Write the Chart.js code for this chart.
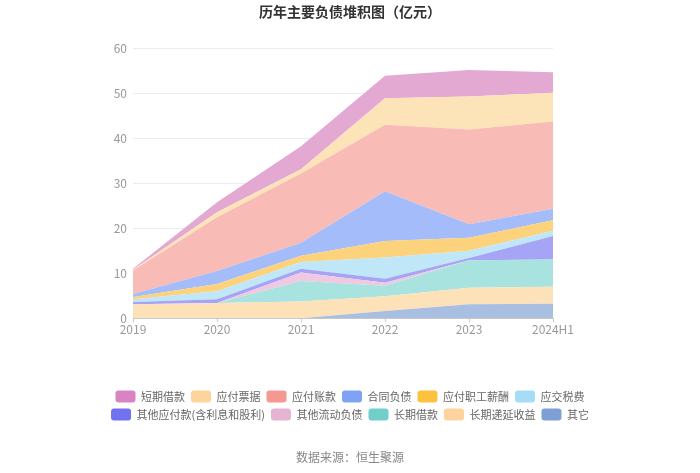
<!DOCTYPE html>
<html>
<head>
<meta charset="utf-8">
<script src="https://cdn.jsdelivr.net/npm/chart.js@4.4.1/dist/chart.umd.min.js"></script>
<style>
  body { margin: 0; background: #fff; }
  .chart-box { width: 700px; height: 473px; }
</style>
</head>
<body>
<div class="chart-box"><canvas id="chart"></canvas></div>
<script>
const years = ["2019", "2020", "2021", "2022", "2023", "2024H1"];
const yTicks = [0, 10, 20, 30, 40, 50, 60];

// 亿元, bottom of the stack first
const qita = [0, 0, 0, 1.6, 3.1, 3.2];
const changqiDiyan = [3.1, 3.4, 3.7, 3.3, 3.7, 3.8];
const changqiJiekuan = [0, 0, 4.6, 2.3, 6.1, 6.1];
const qitaLiudong = [0, 0, 1.9, 0.7, 0, 0];
const qitaYingfu = [0.5, 0.8, 0.8, 0.9, 0.5, 5.2];
const yingjiaoShuifei = [0.6, 1.8, 1.5, 4.7, 1.6, 1.2];
const zhigongXinchou = [0.5, 1.6, 1.4, 3.7, 2.9, 2.3];
const hetongFuzhai = [0.7, 2.9, 2.9, 11.1, 3.0, 2.6];
const yingfuZhangkuan = [5.2, 12.0, 15.4, 14.8, 21.1, 19.4];
const yingfuPiaoju = [0.2, 1.1, 1.0, 5.9, 7.4, 6.4];
const duanqiJiekuan = [0.2, 2.2, 5.1, 5.0, 5.9, 4.6];

const series = [
  { label: "其它", data: qita, fill: "#a9bfe2", legend: "#7d9fd6" },
  { label: "长期递延收益", data: changqiDiyan, fill: "#fde2b9", legend: "#fdd39e" },
  { label: "长期借款", data: changqiJiekuan, fill: "#a9e3df", legend: "#72cecb" },
  { label: "其他流动负债", data: qitaLiudong, fill: "#f1c8e2", legend: "#e5b3d4" },
  { label: "其他应付款(含利息和股利)", data: qitaYingfu, fill: "#a6a4f5", legend: "#7072ef" },
  { label: "应交税费", data: yingjiaoShuifei, fill: "#c0e7f7", legend: "#a5dcf6" },
  { label: "应付职工薪酬", data: zhigongXinchou, fill: "#fdd27c", legend: "#fcc23e" },
  { label: "合同负债", data: hetongFuzhai, fill: "#a4bdfa", legend: "#7fa2f6" },
  { label: "应付账款", data: yingfuZhangkuan, fill: "#f8bbb5", legend: "#f59891" },
  { label: "应付票据", data: yingfuPiaoju, fill: "#fde3b8", legend: "#fdd59c" },
  { label: "短期借款", data: duanqiJiekuan, fill: "#e4a9d3", legend: "#d884c2" },
];

Chart.defaults.font.family = '"Noto Sans CJK SC", "Noto Sans", sans-serif';

const ctx = document.getElementById("chart");

const chart = new Chart(ctx, {
  type: "line",
  data: {
    labels: years,
    datasets: series.map((s) => ({
      label: s.label,
      data: s.data,
      backgroundColor: s.fill,
      borderWidth: 0,
      pointRadius: 0,
      tension: 0,
      fill: "stack",
    })),
  },
  options: {
    responsive: true,
    maintainAspectRatio: false,
    animation: false,
    layout: {
      padding: { left: 90, right: 90, top: 0, bottom: 0 },
    },
    scales: {
      x: {
        grid: {
          drawOnChartArea: false,
          drawTicks: true,
          tickLength: 4,
          color: "#c9c9c9",
        },
        border: { color: "#c9c9c9" },
        ticks: {
          color: "#999",
          padding: 0,
          font: { size: 12 },
          maxRotation: 0,
        },
        afterFit: function (scale) {
          scale.height += 48;
        },
      },
      y: {
        stacked: true,
        min: yTicks[0],
        max: yTicks[yTicks.length - 1],
        afterBuildTicks: function (scale) {
          scale.ticks = yTicks.map((v) => ({ value: v }));
        },
        grid: {
          color: "#ebebf2",
          drawTicks: false,
        },
        border: { display: false },
        ticks: {
          color: "#999",
          padding: 6,
          font: { size: 12 },
        },
        afterFit: function (scale) {
          scale.width = 43;
        },
      },
      yRight: {
        position: "right",
        display: true,
        grid: { display: false },
        border: { display: false },
        ticks: { display: false },
        afterFit: function (scale) {
          scale.width = 57;
        },
      },
    },
    plugins: {
      title: {
        display: true,
        text: "历年主要负债堆积图（亿元）",
        color: "#333",
        font: { size: 14, weight: "bold" },
        padding: { top: 3, bottom: 29 },
      },
      subtitle: {
        display: true,
        position: "bottom",
        text: "数据来源：恒生聚源",
        color: "#888",
        font: { size: 12 },
        padding: { top: 20, bottom: 8 },
      },
      legend: {
        display: true,
        position: "bottom",
        reverse: true,
        labels: {
          boxWidth: 20,
          boxHeight: 12,
          padding: 6,
          color: "#666",
          font: { size: 11 },
          useBorderRadius: true,
          borderRadius: 3,
          generateLabels: function (chart) {
            const items = Chart.defaults.plugins.legend.labels.generateLabels(chart);
            items.forEach((item) => {
              item.fillStyle = series[item.datasetIndex].legend;
              item.strokeStyle = "rgba(0,0,0,0)";
              item.lineWidth = 0;
            });
            return items;
          },
        },
      },
      tooltip: { enabled: false },
    },
  },
});
</script>
</body>
</html>
